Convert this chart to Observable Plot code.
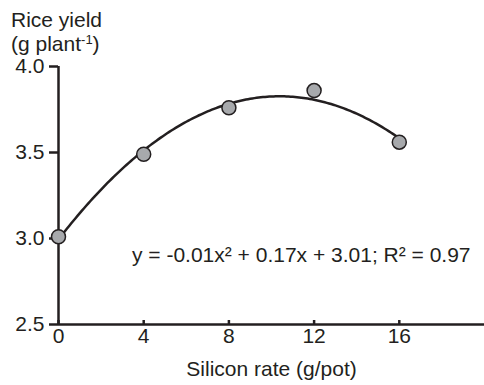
<!DOCTYPE html>
<html><head><meta charset="utf-8">
<script src="https://cdn.jsdelivr.net/npm/d3@7"></script>
<script src="https://cdn.jsdelivr.net/npm/@observablehq/plot@0.6"></script>
<style>
body{margin:0;background:#fff;font-family:"Liberation Sans",Arial,sans-serif;color:#231f20;}
#title{font-size:21px;line-height:24px;padding:8px 0 0 11px;height:36px;box-sizing:content-box;overflow:visible;position:relative;z-index:1;}
#title sup{font-size:13px;line-height:0;vertical-align:0.55em}
#chart svg{background:transparent;}
</style></head><body>
<div id="title">Rice yield<br>(g plant<sup>-1</sup>)</div>
<div id="chart"></div>
<script>
const siliconRate = [0, 4, 8, 12, 16];
const riceYield = [3.01, 3.49, 3.76, 3.86, 3.56];
const xTicks = [0, 4, 8, 12, 16];
const yTicks = [2.5, 3.0, 3.5, 4.0];
const equationText = ["y = -0.01x² + 0.17x + 3.01; R² = 0.97"];
const equationAt = [3.45, 2.9];

const points = siliconRate.map((x, i) => ({x, y: riceYield[i]}));

// least-squares quadratic fit of the points
function quadFit(xs, ys) {
  const S = k => d3.sum(xs, x => x ** k);
  const T = k => d3.sum(xs, (x, i) => x ** k * ys[i]);
  const A = [[S(4), S(3), S(2)], [S(3), S(2), S(1)], [S(2), S(1), S(0)]];
  const B = [T(2), T(1), T(0)];
  const det = m => m[0][0]*(m[1][1]*m[2][2]-m[1][2]*m[2][1]) - m[0][1]*(m[1][0]*m[2][2]-m[1][2]*m[2][0]) + m[0][2]*(m[1][0]*m[2][1]-m[1][1]*m[2][0]);
  const D = det(A);
  return [0, 1, 2].map(c => det(A.map((row, r) => row.map((v, j) => j === c ? B[r] : v))) / D);
}
const [qa, qb, qc] = quadFit(siliconRate, riceYield);
const curve = d3.range(0, 16.0001, 0.1).map(x => ({x, y: qa * x * x + qb * x + qc}));

const ink = "#231f20";
const chart = Plot.plot({
  width: 484, height: 341,
  marginTop: 22, marginBottom: 61, marginLeft: 58, marginRight: 0,
  style: {fontFamily: '"Liberation Sans", Arial, sans-serif', fontSize: "21px", color: ink, background: "transparent"},
  x: {domain: [0, 20]},
  y: {domain: [2.5, 4.0]},
  marks: [
    Plot.axisY({ticks: yTicks, tickSize: 9, tickPadding: 5, tickFormat: d => d.toFixed(1), label: null, strokeWidth: 2.5, stroke: ink, fill: ink, fontSize: 21}),
    Plot.axisX({ticks: xTicks, tickSize: -4, tickPadding: 8, tickFormat: d => String(d), label: "Silicon rate (g/pot)", labelAnchor: "center", labelOffset: 51, labelArrow: "none", strokeWidth: 2.5, stroke: ink, fill: ink, fontSize: 21}),
    Plot.ruleX([0], {stroke: ink, strokeWidth: 2.5}),
    Plot.ruleY([2.5], {stroke: ink, strokeWidth: 2.5}),
    Plot.line(curve, {x: "x", y: "y", stroke: ink, strokeWidth: 2.5}),
    Plot.dot(points, {x: "x", y: "y", r: 7, fill: "#a7a9ac", stroke: ink, strokeWidth: 1.5}),
    Plot.text(equationText, {x: () => equationAt[0], y: () => equationAt[1], text: d => d, textAnchor: "start", fill: ink, fontSize: 21})
  ]
});
document.getElementById("chart").appendChild(chart);
</script>
</body></html>
